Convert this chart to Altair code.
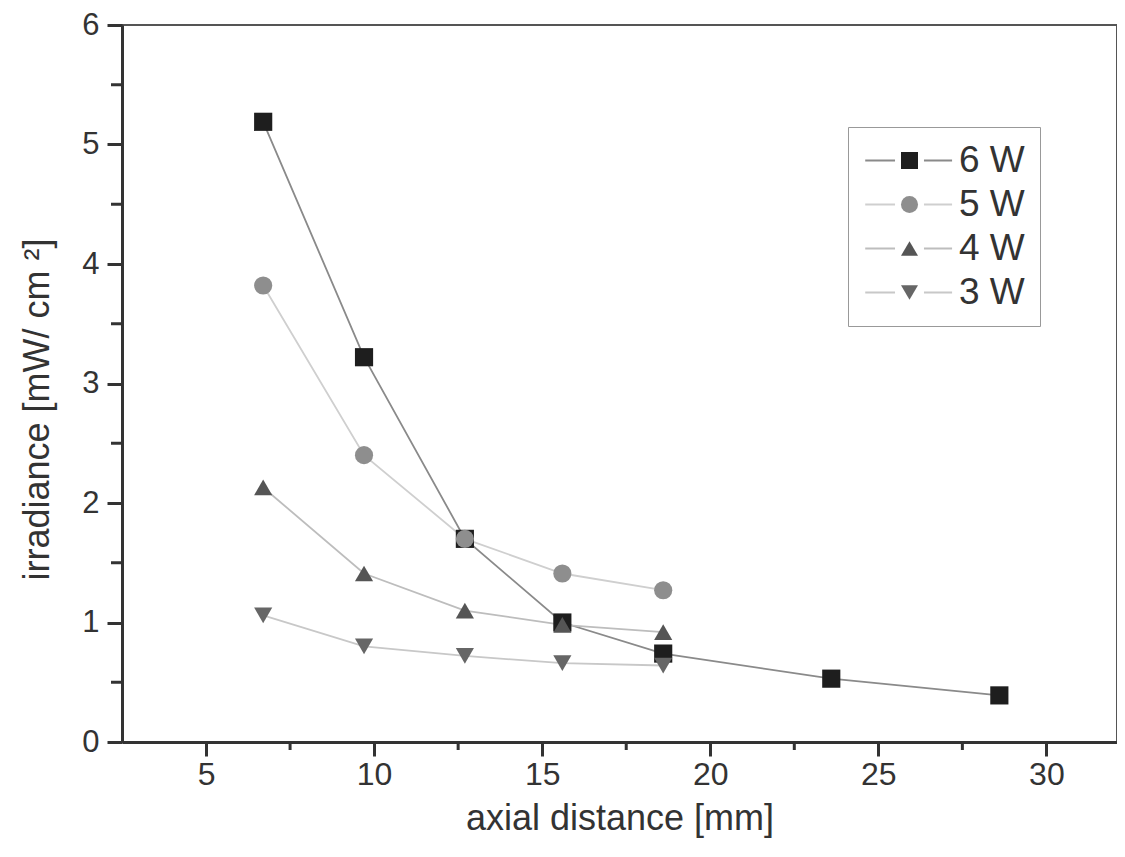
import altair as alt
import pandas as pd

series = ["6 W", "5 W", "4 W", "3 W"]
x_6w = [6.7, 9.7, 12.7, 15.6, 18.6, 23.6, 28.6]
y_6w = [5.19, 3.22, 1.70, 1.00, 0.74, 0.53, 0.39]
x_5w = [6.7, 9.7, 12.7, 15.6, 18.6]
y_5w = [3.82, 2.40, 1.70, 1.41, 1.27]
x_4w = [6.7, 9.7, 12.7, 15.6, 18.6]
y_4w = [2.13, 1.41, 1.10, 0.98, 0.92]
x_3w = [6.7, 9.7, 12.7, 15.6, 18.6]
y_3w = [1.06, 0.80, 0.72, 0.66, 0.64]

marker_colors = ["#1e1e1e", "#8e8e8e", "#555555", "#666666"]
line_colors = ["#8a8a8a", "#cfcfcf", "#bdbdbd", "#c8c8c8"]
shapes = ["square", "circle", "triangle-up", "triangle-down"]

x_major = [5, 10, 15, 20, 25, 30]
x_minor = [7.5, 12.5, 17.5, 22.5, 27.5]
y_major = [0, 1, 2, 3, 4, 5, 6]
y_minor = [0.5, 1.5, 2.5, 3.5, 4.5, 5.5]

rows = []
for name, xs, ys in zip(series, [x_6w, x_5w, x_4w, x_3w], [y_6w, y_5w, y_4w, y_3w]):
    for xv, yv in zip(xs, ys):
        rows.append({"series": name, "line": name, "x": xv, "y": yv})
df = pd.DataFrame(rows)

FONT = "Liberation Sans"

x_scale = alt.Scale(domain=[2.5, 32.1], nice=False, zero=False)
y_scale = alt.Scale(domain=[0, 6], nice=False, zero=True)

x_enc = alt.X(
    "x:Q",
    scale=x_scale,
    axis=alt.Axis(
        title="axial distance [mm]",
        values=x_major,
        format="d",
        tickSize=14,
        grid=False,
        labelPadding=3,
        labelFontSize=32,
        titlePadding=11,
    ),
)
y_enc = alt.Y(
    "y:Q",
    scale=y_scale,
    axis=alt.Axis(
        title="irradiance [mW/ cm ²]",
        values=y_major,
        format="d",
        tickSize=15,
        grid=False,
        labelPadding=8,
        labelFontSize=31,
        titlePadding=25,
        titleY=384,
    ),
)

common_legend = dict(
    title=None,
    orient="none",
    legendX=726,
    legendY=102,
    padding=15,
    labelFont=FONT,
    labelFontSize=37,
    labelExpr="datum.label + '\u00a0\u00a0\u00a0'",
    symbolSize=290,
    symbolOffset=28,
    labelOffset=31,
    rowPadding=6,
)

line_legend = alt.Legend(
    symbolType="M-5.2,0L-1.7,0M1.7,0L5.0,0",
    symbolStrokeWidth=2,
    labelOpacity=0,
    **common_legend,
)

marker_legend = alt.Legend(
    strokeColor="#999999",
    labelColor="#333333",
    symbolStrokeWidth=0,
    **common_legend,
)

lines = alt.Chart(df).mark_line(strokeWidth=1.8).encode(
    x=x_enc,
    y=y_enc,
    stroke=alt.Stroke("line:N", sort=series, scale=alt.Scale(range=line_colors), legend=line_legend),
    detail="series:N",
)

points = alt.Chart(df).mark_point(filled=True, opacity=1, size=330).encode(
    x=x_enc,
    y=y_enc,
    fill=alt.Fill("series:N", scale=alt.Scale(domain=series, range=marker_colors), legend=marker_legend),
    shape=alt.Shape("series:N", scale=alt.Scale(domain=series, range=shapes), legend=marker_legend),
)

xminor_df = pd.DataFrame({"x": x_minor})
yminor_df = pd.DataFrame({"y": y_minor})

x_minor_ticks = alt.Chart(xminor_df).mark_rule(color="#333333", strokeWidth=3).encode(
    x=x_enc,
    y=alt.value(717),
    y2=alt.value(725),
)
y_minor_ticks = alt.Chart(yminor_df).mark_rule(color="#333333", strokeWidth=3).encode(
    y=y_enc,
    x=alt.value(0),
    x2=alt.value(-11),
)

chart = (
    alt.layer(lines, points, x_minor_ticks, y_minor_ticks)
    .properties(
        width=995,
        height=717,
        autosize=alt.AutoSizeParams(type="none"),
        padding={"left": 114, "top": 17, "right": 0, "bottom": 100},
    )
    .configure_view(stroke="#555555", strokeWidth=2)
    .configure_axis(
        domainColor="#333333",
        domainWidth=3,
        tickColor="#333333",
        tickWidth=3,
        labelFont=FONT,
        labelColor="#333333",
        titleFont=FONT,
        titleFontSize=36,
        titleFontWeight="normal",
        titleColor="#333333",
    )
)

chart.save("out.html", embed_options={"renderer": "svg", "actions": False})
